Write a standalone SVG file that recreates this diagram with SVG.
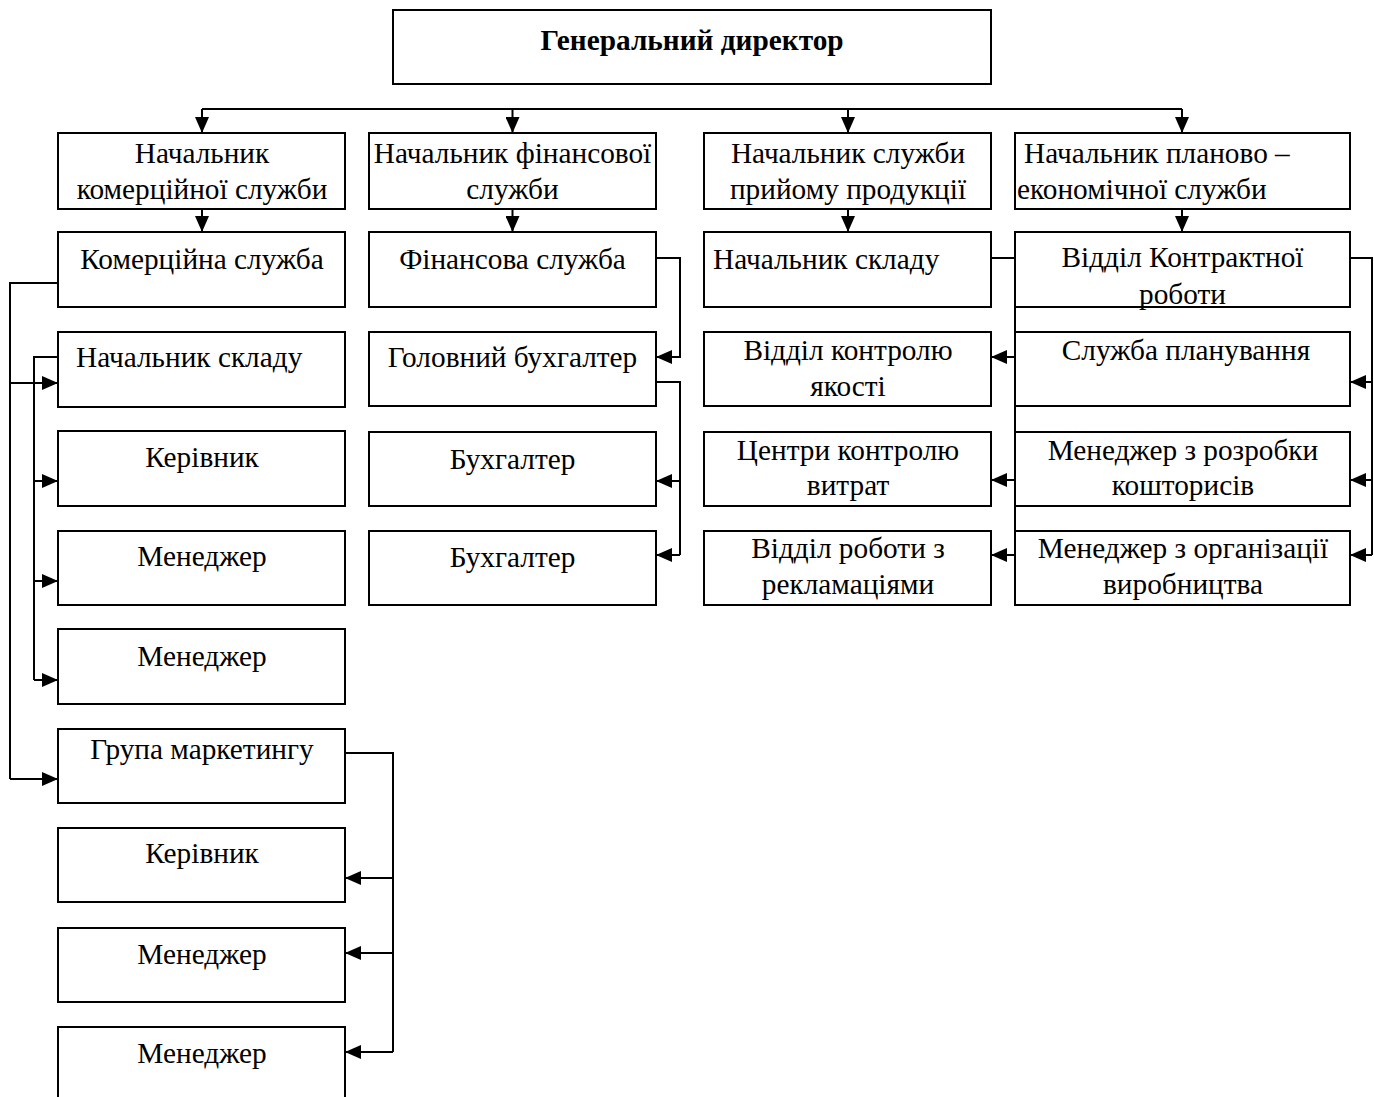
<svg xmlns="http://www.w3.org/2000/svg" width="1374" height="1097" viewBox="0 0 1374 1097">
<style>
.b{fill:#fff;stroke:#000;stroke-width:2}
.t{font-family:"Liberation Serif","Times New Roman",serif;font-size:29.3px;fill:#000;text-anchor:middle}
.s{text-anchor:start}
.h{font-weight:bold;font-size:29.3px}
.c{fill:none;stroke:#000;stroke-width:2}
</style>
<defs>
<marker id="a" markerWidth="16" markerHeight="14" refX="16" refY="7" orient="auto" markerUnits="userSpaceOnUse">
<path d="M0,0 L16,7 L0,14 Z" fill="#000"/>
</marker>
</defs>
<rect width="1374" height="1097" fill="#fff"/>
<g id="connectors">
<path class="c" d="M202,109 H1182"/>
<path class="c" d="M202,109 V133" marker-end="url(#a)"/>
<path class="c" d="M512.5,109 V133" marker-end="url(#a)"/>
<path class="c" d="M848,109 V133" marker-end="url(#a)"/>
<path class="c" d="M1182,109 V133" marker-end="url(#a)"/>
<path class="c" d="M202,209 V232" marker-end="url(#a)"/>
<path class="c" d="M512.5,209 V232" marker-end="url(#a)"/>
<path class="c" d="M848,209 V232" marker-end="url(#a)"/>
<path class="c" d="M1182,209 V232" marker-end="url(#a)"/>
<path class="c" d="M58,283 H10 V779"/>
<path class="c" d="M10,383 H58" marker-end="url(#a)"/>
<path class="c" d="M10,779 H58" marker-end="url(#a)"/>
<path class="c" d="M58,357 H34 V680"/>
<path class="c" d="M34,481 H58" marker-end="url(#a)"/>
<path class="c" d="M34,581 H58" marker-end="url(#a)"/>
<path class="c" d="M34,680 H58" marker-end="url(#a)"/>
<path class="c" d="M345,753 H393 V1052"/>
<path class="c" d="M393,878 H345" marker-end="url(#a)"/>
<path class="c" d="M393,953 H345" marker-end="url(#a)"/>
<path class="c" d="M393,1052 H345" marker-end="url(#a)"/>
<path class="c" d="M656,258 H680 V357 H656" marker-end="url(#a)"/>
<path class="c" d="M656,382 H680 V555"/>
<path class="c" d="M680,481 H656" marker-end="url(#a)"/>
<path class="c" d="M680,555 H656" marker-end="url(#a)"/>
<path class="c" d="M991,258 H1015 V555"/>
<path class="c" d="M1015,357 H991" marker-end="url(#a)"/>
<path class="c" d="M1015,480 H991" marker-end="url(#a)"/>
<path class="c" d="M1015,555 H991" marker-end="url(#a)"/>
<path class="c" d="M1350,258 H1372 V555"/>
<path class="c" d="M1372,382 H1350" marker-end="url(#a)"/>
<path class="c" d="M1372,480 H1350" marker-end="url(#a)"/>
<path class="c" d="M1372,555 H1350" marker-end="url(#a)"/>
</g>
<g id="n0"><rect class="b" x="393" y="10" width="598" height="74"/><text class="t h" x="692" y="50">Генеральний директор</text></g>
<g id="n1"><rect class="b" x="58" y="133" width="287" height="76"/><text class="t" x="202" y="163">Начальник</text><text class="t" x="202" y="199">комерційної служби</text></g>
<g id="n2"><rect class="b" x="369" y="133" width="287" height="76"/><text class="t" x="512.5" y="163">Начальник фінансової</text><text class="t" x="512.5" y="199">служби</text></g>
<g id="n3"><rect class="b" x="704" y="133" width="287" height="76"/><text class="t" x="848" y="163">Начальник служби</text><text class="t" x="848" y="199">прийому продукції</text></g>
<g id="n4"><rect class="b" x="1015" y="133" width="335" height="76"/><text class="t s" x="1024" y="163">Начальник планово –</text><text class="t s" x="1017" y="199">економічної служби</text></g>
<g id="n5"><rect class="b" x="58" y="232" width="287" height="75"/><text class="t" x="202" y="269">Комерційна служба</text></g>
<g id="n6"><rect class="b" x="369" y="232" width="287" height="75"/><text class="t" x="512.5" y="269">Фінансова служба</text></g>
<g id="n7"><rect class="b" x="704" y="232" width="287" height="75"/><text class="t s" x="713" y="269">Начальник складу</text></g>
<g id="n8"><rect class="b" x="1015" y="232" width="335" height="75"/><text class="t" x="1182.5" y="267">Відділ Контрактної</text><text class="t" x="1182.5" y="304">роботи</text></g>
<g id="n9"><rect class="b" x="58" y="332" width="287" height="75"/><text class="t s" x="76" y="367">Начальник складу</text></g>
<g id="n10"><rect class="b" x="58" y="431" width="287" height="75"/><text class="t" x="202" y="467">Керівник</text></g>
<g id="n11"><rect class="b" x="58" y="531" width="287" height="74"/><text class="t" x="202" y="566">Менеджер</text></g>
<g id="n12"><rect class="b" x="58" y="629" width="287" height="75"/><text class="t" x="202" y="666">Менеджер</text></g>
<g id="n13"><rect class="b" x="58" y="729" width="287" height="74"/><text class="t" x="202" y="759">Група маркетингу</text></g>
<g id="n14"><rect class="b" x="58" y="828" width="287" height="74"/><text class="t" x="202" y="863">Керівник</text></g>
<g id="n15"><rect class="b" x="58" y="928" width="287" height="74"/><text class="t" x="202" y="964">Менеджер</text></g>
<g id="n16"><rect class="b" x="58" y="1027" width="287" height="80"/><text class="t" x="202" y="1063">Менеджер</text></g>
<g id="n17"><rect class="b" x="369" y="332" width="287" height="74"/><text class="t" x="512.5" y="367">Головний бухгалтер</text></g>
<g id="n18"><rect class="b" x="369" y="432" width="287" height="74"/><text class="t" x="512.5" y="469">Бухгалтер</text></g>
<g id="n19"><rect class="b" x="369" y="531" width="287" height="74"/><text class="t" x="512.5" y="567">Бухгалтер</text></g>
<g id="n20"><rect class="b" x="704" y="332" width="287" height="74"/><text class="t" x="848" y="360">Відділ контролю</text><text class="t" x="848" y="396">якості</text></g>
<g id="n21"><rect class="b" x="704" y="432" width="287" height="74"/><text class="t" x="848" y="460">Центри контролю</text><text class="t" x="848" y="495">витрат</text></g>
<g id="n22"><rect class="b" x="704" y="531" width="287" height="74"/><text class="t" x="848" y="558">Відділ роботи з</text><text class="t" x="848" y="594">рекламаціями</text></g>
<g id="n23"><rect class="b" x="1015" y="332" width="335" height="74"/><text class="t" x="1186" y="360">Служба планування</text></g>
<g id="n24"><rect class="b" x="1015" y="432" width="335" height="74"/><text class="t" x="1183" y="460">Менеджер з розробки</text><text class="t" x="1183" y="495">кошторисів</text></g>
<g id="n25"><rect class="b" x="1015" y="531" width="335" height="74"/><text class="t" x="1183" y="558">Менеджер з організації</text><text class="t" x="1183" y="594">виробництва</text></g>
</svg>
